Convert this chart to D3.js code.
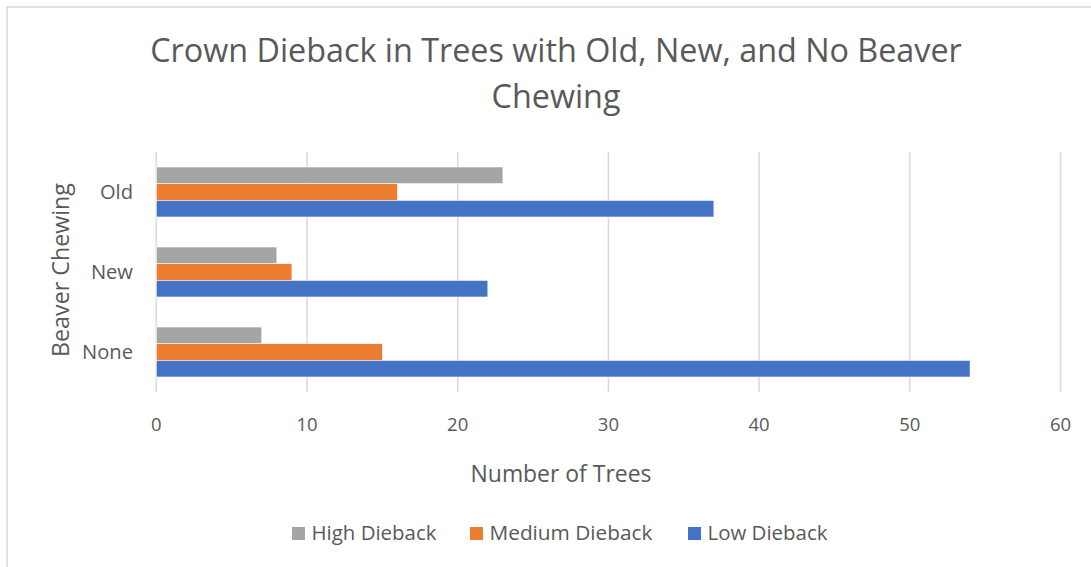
<!DOCTYPE html>
<html><head><meta charset="utf-8">
<script src="https://cdn.jsdelivr.net/npm/d3@7"></script>
<style>body{margin:0;background:#fff}svg{display:block}text{font-family:"Open Sans",sans-serif;fill:#595959}</style>
</head><body>
<script>
const categories = ["Old", "New", "None"];
const seriesNames = ["High Dieback", "Medium Dieback", "Low Dieback"];
const highValues = [23, 8, 7];
const mediumValues = [16, 9, 15];
const lowValues = [37, 22, 54];
const xTicks = [0, 10, 20, 30, 40, 50, 60];
const colors = ["#a5a5a5", "#ed7d31", "#4472c4"];
const titleLines = ["Crown Dieback in Trees with Old, New, and No Beaver", "Chewing"];

const W = 1091, H = 567;
const svg = d3.select("body").append("svg").attr("width", W).attr("height", H);
svg.append("rect").attr("x", 7).attr("y", 7).attr("width", W + 10).attr("height", H + 10)
  .attr("fill", "#fff").attr("stroke", "#d9d9d9").attr("stroke-width", 1.5);

function fit(sel, target) {
  const w = sel.node().getComputedTextLength();
  const fs = parseFloat(sel.attr("font-size"));
  sel.attr("font-size", fs * target / w);
  return fs * target / w;
}

const x = d3.scaleLinear().domain([0, 60]).range([156.3, 1060.5]);
const y = d3.scaleBand().domain(categories).range([152, 392]);
const series = seriesNames.map((n, i) => ({name: n, values: [highValues, mediumValues, lowValues][i], color: colors[i]}));
const barH = y.bandwidth() / 4.8;

// gridlines
svg.append("g").selectAll("line").data(xTicks).join("line")
  .attr("x1", d => x(d)).attr("x2", d => x(d)).attr("y1", 152).attr("y2", 392)
  .attr("stroke", "#d9d9d9").attr("stroke-width", 1.5);

// bars
series.forEach((s, si) => {
  svg.append("g").selectAll("rect").data(categories).join("rect")
    .attr("x", x(0)).attr("y", (c) => y(c) + barH * 0.9 + si * barH)
    .attr("width", (c, ci) => x(s.values[ci]) - x(0)).attr("height", barH)
    .attr("fill", s.color).attr("stroke", "#fff").attr("stroke-width", 0.6);
});

// x tick labels
svg.append("g").selectAll("text").data(xTicks).join("text")
  .attr("x", d => x(d)).attr("y", 431).attr("text-anchor", "middle")
  .attr("font-size", 18.5).text(d => d);

// category labels
const catG = svg.append("g");
const catT = catG.selectAll("text").data(categories).join("text")
  .attr("x", 133).attr("y", c => y(c) + y.bandwidth() / 2 + 7).attr("text-anchor", "end")
  .attr("font-size", 18).text(c => c);
const fsCat = fit(catT.filter(c => c === "None"), 51);
catT.attr("font-size", fsCat);

// axis titles
const xt = svg.append("text").attr("x", 561).attr("y", 482).attr("text-anchor", "middle")
  .attr("font-size", 19).text("Number of Trees");
fit(xt, 181);
const yt = svg.append("text").attr("transform", "translate(69,270) rotate(-90)").attr("text-anchor", "middle")
  .attr("font-size", 19).text("Beaver Chewing");
fit(yt, 174);

// title
const t1 = svg.append("text").attr("x", 556).attr("y", 62).attr("text-anchor", "middle")
  .attr("font-size", 30).text(titleLines[0]);
fit(t1, 812);
svg.append("text").attr("x", 556).attr("y", 108).attr("text-anchor", "middle")
  .attr("font-size", t1.attr("font-size")).text(titleLines[1]);

// legend
const legX = [292, 470, 688];
const legW = [125, 163, 120];
const leg = svg.append("g").selectAll("g").data(series).join("g")
  .attr("transform", (d, i) => `translate(${legX[i]},527)`);
leg.append("rect").attr("width", 13).attr("height", 13).attr("fill", d => d.color);
leg.append("text").attr("x", 19.5).attr("y", 12.5).attr("font-size", 18).text(d => d.name)
  .each(function (d, i) { fit(d3.select(this), legW[i]); });
</script>
</body></html>
